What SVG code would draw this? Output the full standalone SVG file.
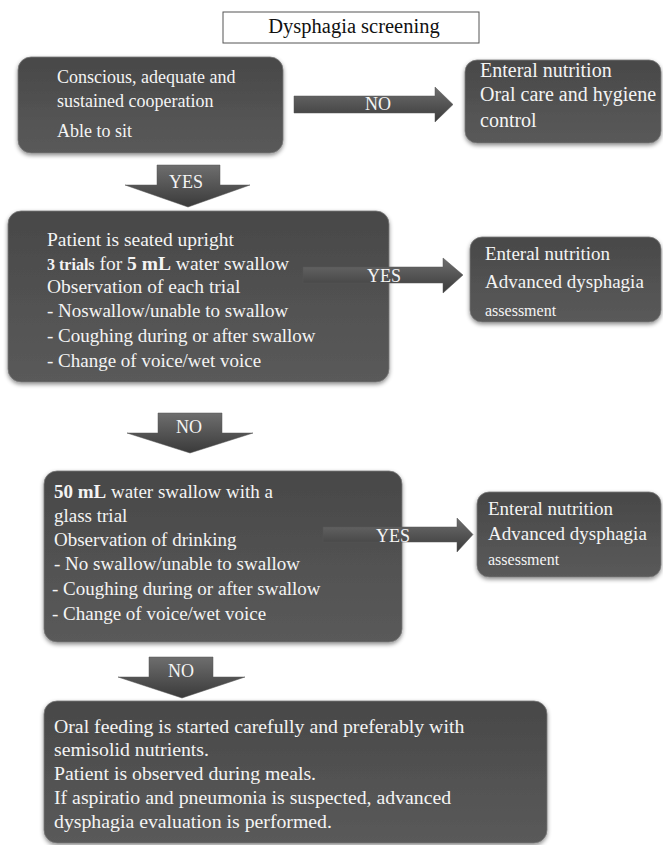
<svg xmlns="http://www.w3.org/2000/svg" width="663" height="845" viewBox="0 0 663 845">
<style>
.box{fill:url(#boxg);stroke:#7a7a7a;stroke-width:0.8;filter:url(#sh)}
.arr{fill:url(#arrg);stroke:#555;stroke-width:0.5}
.t{font-family:"Liberation Serif","Times New Roman",serif;font-size:19px;fill:#f4f4f4}
.al{font-family:"Liberation Serif","Times New Roman",serif;font-size:18px;fill:#f4f4f4;text-anchor:middle}
.title{font-family:"Liberation Serif","Times New Roman",serif;font-size:20.5px;fill:#111;text-anchor:middle}
</style>
<defs>
<linearGradient id="boxg" x1="0" y1="0" x2="0" y2="1">
<stop offset="0" stop-color="#484848"/>
<stop offset="1" stop-color="#5a5a5a"/>
</linearGradient>
<linearGradient id="arrg" x1="0" y1="0" x2="0" y2="1">
<stop offset="0" stop-color="#6e6e6e"/>
<stop offset="1" stop-color="#3a3a3a"/>
</linearGradient>
<filter id="sh" x="-10%" y="-10%" width="120%" height="130%">
<feDropShadow dx="0" dy="2" stdDeviation="2" flood-color="#000" flood-opacity="0.45"/>
</filter>
</defs>

<g id="title">
<rect x="223" y="12" width="256" height="31" fill="#fff" stroke="#555" stroke-width="1"/>
<text class="title" x="354" y="33">Dysphagia screening</text>
</g>

<g id="box1">
<rect class="box" x="18" y="57" width="265" height="96" rx="13"/>
<text class="t" x="57" y="83" style="font-size:18px">Conscious, adequate and</text>
<text class="t" x="57" y="107" style="font-size:18px">sustained cooperation</text>
<text class="t" x="57" y="137" style="font-size:18px">Able to sit</text>
</g>

<g id="right1">
<rect class="box" x="465" y="60" width="196" height="83" rx="12"/>
<text class="t" x="480" y="77" style="font-size:20px">Enteral nutrition</text>
<text class="t" x="480" y="101" style="font-size:20px">Oral care and hygiene</text>
<text class="t" x="480" y="127" style="font-size:20px">control</text>
</g>

<g id="box2">
<rect class="box" x="8" y="211" width="381" height="171" rx="13"/>
<text class="t" x="47" y="246" style="font-size:19.5px">Patient is seated upright</text>
<text class="t" x="47" y="270" style="font-size:19.5px"><tspan font-weight="bold" font-size="16">3 trials</tspan> for <tspan font-weight="bold">5 mL</tspan> water swallow</text>
<text class="t" x="47" y="293" style="font-size:19.5px">Observation of each trial</text>
<text class="t" x="47" y="317">- Noswallow/unable to swallow</text>
<text class="t" x="47" y="342">- Coughing during or after swallow</text>
<text class="t" x="47" y="367">- Change of voice/wet voice</text>
</g>

<g id="right2">
<rect class="box" x="470" y="237" width="191" height="85" rx="12"/>
<text class="t" x="485" y="260">Enteral nutrition</text>
<text class="t" x="485" y="288">Advanced dysphagia</text>
<text class="t" x="485" y="316" style="font-size:16px">assessment</text>
</g>

<g id="box3">
<rect class="box" x="44" y="471" width="358" height="171" rx="13"/>
<text class="t" x="54" y="498"><tspan font-weight="bold">50 mL</tspan> water swallow with a</text>
<text class="t" x="54" y="522">glass trial</text>
<text class="t" x="54" y="546">Observation of drinking</text>
<text class="t" x="54" y="570">- No swallow/unable to swallow</text>
<text class="t" x="52" y="595">- Coughing during or after swallow</text>
<text class="t" x="52" y="620">- Change of voice/wet voice</text>
</g>

<g id="right3">
<rect class="box" x="477" y="492" width="184" height="85" rx="12"/>
<text class="t" x="488" y="515">Enteral nutrition</text>
<text class="t" x="488" y="540">Advanced dysphagia</text>
<text class="t" x="488" y="565" style="font-size:16px">assessment</text>
</g>

<g id="box4">
<rect class="box" x="44" y="701" width="503" height="142" rx="13"/>
<text class="t" x="54" y="733" style="font-size:19.8px">Oral feeding is started carefully and preferably with</text>
<text class="t" x="54" y="756" style="font-size:19.8px">semisolid nutrients.</text>
<text class="t" x="54" y="780" style="font-size:19.8px">Patient is observed during meals.</text>
<text class="t" x="54" y="804" style="font-size:19.8px">If aspiratio and pneumonia is suspected, advanced</text>
<text class="t" x="54" y="828" style="font-size:19.8px">dysphagia evaluation is performed.</text>
</g>

<g id="connectors">
<g id="arrow-no-1">
<polygon class="arr" points="294,96 435,96 435,87 453,104.5 435,122 435,113 294,113"/>
<text class="al" x="378" y="110">NO</text>
</g>
<g id="arrow-yes-1">
<polygon class="arr" points="157,165 220,165 220,185 250,185 188,207 125,185 157,185"/>
<text class="al" x="186" y="188">YES</text>
</g>
<g id="arrow-yes-2">
<polygon class="arr" points="303,267 443,267 443,258 463,275 443,293 443,283 303,283"/>
<text class="al" x="384" y="282">YES</text>
</g>
<g id="arrow-no-2">
<polygon class="arr" points="158,413 222,413 222,433 253,433 190,453 127,433 158,433"/>
<text class="al" x="189" y="433">NO</text>
</g>
<g id="arrow-yes-3">
<polygon class="arr" points="323,527 457,527 457,518 473,534.5 457,552 457,542 323,542"/>
<text class="al" x="393" y="542">YES</text>
</g>
<g id="arrow-no-3">
<polygon class="arr" points="149,657 213,657 213,677 245,677 182,698 118,677 149,677"/>
<text class="al" x="181" y="677">NO</text>
</g>
</g>
</svg>
